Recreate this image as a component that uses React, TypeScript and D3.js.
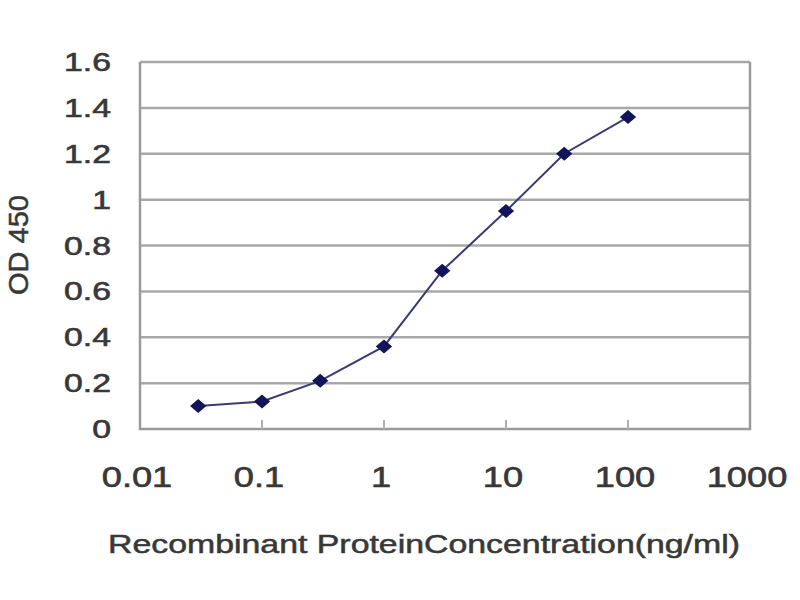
import { useEffect, useRef } from 'react';
import * as d3 from 'd3';

// Concentration (ng/ml) and OD 450 readings
const concentrations = [0.03, 0.1, 0.3, 1, 3, 10, 30, 100];
const od450 = [0.1, 0.12, 0.21, 0.36, 0.69, 0.95, 1.2, 1.36];
const xTicks = [0.01, 0.1, 1, 10, 100, 1000];
const yTicks = [0, 0.2, 0.4, 0.6, 0.8, 1, 1.2, 1.4, 1.6];

export default function App() {
  const svgRef = useRef<SVGSVGElement>(null);

  useEffect(() => {
    if (!svgRef.current) return;
    const width = 800;
    const height = 600;
    const margin = { top: 62, right: 50, bottom: 171, left: 140 };

    const svg = d3.select(svgRef.current);
    svg.selectAll('*').remove();
    svg.attr('width', width).attr('height', height);

    const x = d3.scaleLog().domain([0.01, 1000]).range([margin.left, width - margin.right]);
    const y = d3.scaleLinear().domain([0, 1.6]).range([height - margin.bottom, margin.top]);
    const font = 'Liberation Sans, Arial, sans-serif';
    const ink = '#383838';

    svg.append('rect').attr('width', width).attr('height', height).attr('fill', '#fff');

    // horizontal gridlines
    svg.append('g')
      .selectAll('line')
      .data(yTicks.filter((d) => d > 0))
      .enter()
      .append('line')
      .attr('x1', margin.left)
      .attr('x2', width - margin.right)
      .attr('y1', (d) => y(d))
      .attr('y2', (d) => y(d))
      .attr('stroke', '#a8a8a8')
      .attr('stroke-width', 2.5);

    // frame: left, bottom, right
    const [x0, x1] = x.range();
    const [y0, y1] = y.range();
    svg.append('path')
      .attr('d', `M${x0},${y1}V${y0}H${x1}V${y1}`)
      .attr('fill', 'none')
      .attr('stroke', '#9a9a9a')
      .attr('stroke-width', 2.5);

    // inner tick marks on x axis
    svg.append('g')
      .selectAll('line')
      .data(xTicks.slice(1, -1))
      .enter()
      .append('line')
      .attr('x1', (d) => x(d))
      .attr('x2', (d) => x(d))
      .attr('y1', y0)
      .attr('y2', y0 - 9)
      .attr('stroke', '#b0b0b0')
      .attr('stroke-width', 2);

    // y tick labels
    svg.append('g')
      .selectAll('text')
      .data(yTicks)
      .enter()
      .append('text')
      .attr('transform', (d) => `translate(111,${y(d) + 9}) scale(1.35,1)`)
      .attr('text-anchor', 'end')
      .attr('font-family', font)
      .attr('font-size', 25)
      .attr('fill', ink)
      .attr('stroke', ink)
      .attr('stroke-width', 0.6)
      .text((d) => String(d));

    // x tick labels
    svg.append('g')
      .selectAll('text')
      .data(xTicks)
      .enter()
      .append('text')
      .attr('transform', (d) => `translate(${x(d) - 3},487) scale(1.25,1)`)
      .attr('text-anchor', 'middle')
      .attr('font-family', font)
      .attr('font-size', 29)
      .attr('fill', ink)
      .attr('stroke', ink)
      .attr('stroke-width', 0.6)
      .text((d) => String(d));

    // axis titles
    svg.append('text')
      .attr('x', 424)
      .attr('y', 553)
      .attr('text-anchor', 'middle')
      .attr('font-family', font)
      .attr('font-size', 25)
      .attr('fill', ink)
      .attr('stroke', ink)
      .attr('stroke-width', 0.5)
      .attr('textLength', 632)
      .attr('lengthAdjust', 'spacingAndGlyphs')
      .text('Recombinant ProteinConcentration(ng/ml)');

    svg.append('text')
      .attr('transform', 'translate(28,245) rotate(-90)')
      .attr('text-anchor', 'middle')
      .attr('font-family', font)
      .attr('font-size', 27)
      .attr('fill', ink)
      .attr('stroke', ink)
      .attr('stroke-width', 0.5)
      .attr('textLength', 100)
      .attr('lengthAdjust', 'spacingAndGlyphs')
      .text('OD 450');

    const pts = concentrations.map((c, i) => [c, od450[i]] as [number, number]);

    svg.append('path')
      .datum(pts)
      .attr('fill', 'none')
      .attr('stroke', '#3b3b70')
      .attr('stroke-width', 2)
      .attr('d', d3.line<[number, number]>().x((d) => x(d[0])).y((d) => y(d[1])));

    svg.append('g')
      .selectAll('path')
      .data(pts)
      .enter()
      .append('path')
      .attr('transform', (d) => `translate(${x(d[0])},${y(d[1])})`)
      .attr('d', 'M-7,0L0,-6L7,0L0,6Z')
      .attr('fill', '#14145a')
      .attr('stroke', '#14145a')
      .attr('stroke-width', 1.5);
  }, []);

  return <svg ref={svgRef} style={{ display: 'block', margin: '-8px' }} />;
}
